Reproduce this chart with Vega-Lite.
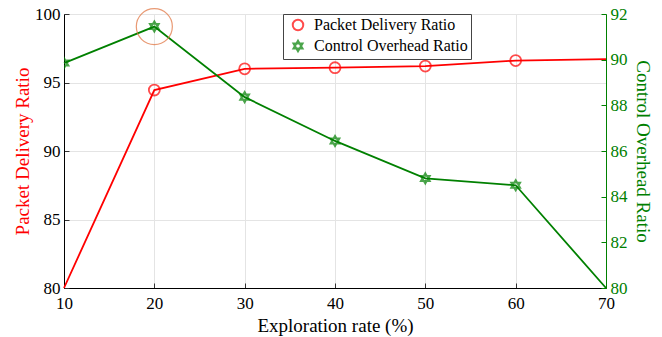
{
  "$schema": "https://vega.github.io/schema/vega-lite/v6.json",
  "width": 542,
  "height": 274,
  "autosize": {"type": "none"},
  "padding": {"left": 64, "top": 14, "right": 56, "bottom": 49},
  "background": "white",
  "config": {
    "font": "Liberation Serif",
    "view": {"stroke": "#333", "strokeWidth": 1},
    "axis": {
      "labelFont": "Liberation Serif",
      "titleFont": "Liberation Serif",
      "labelFontSize": 17,
      "titleFontSize": 19,
      "titleFontWeight": "normal",
      "labelColor": "black",
      "labelFlush": false,
      "grid": true,
      "gridColor": "#e4e4e4",
      "gridWidth": 1,
      "tickSize": -5,
      "tickColor": "#333",
      "domainColor": "black"
    },
    "legend": {
      "labelFont": "Liberation Serif",
      "labelFontSize": 16
    }
  },
  "data": {
    "values": [
      {"rate": 10, "series": "Packet Delivery Ratio", "value": 80.0},
      {"rate": 20, "series": "Packet Delivery Ratio", "value": 94.45},
      {"rate": 30, "series": "Packet Delivery Ratio", "value": 96.0},
      {"rate": 40, "series": "Packet Delivery Ratio", "value": 96.08},
      {"rate": 50, "series": "Packet Delivery Ratio", "value": 96.2},
      {"rate": 60, "series": "Packet Delivery Ratio", "value": 96.6},
      {"rate": 70, "series": "Packet Delivery Ratio", "value": 96.7},
      {"rate": 10, "series": "Control Overhead Ratio", "value": 89.85},
      {"rate": 20, "series": "Control Overhead Ratio", "value": 91.45},
      {"rate": 30, "series": "Control Overhead Ratio", "value": 88.36},
      {"rate": 40, "series": "Control Overhead Ratio", "value": 86.44},
      {"rate": 50, "series": "Control Overhead Ratio", "value": 84.8},
      {"rate": 60, "series": "Control Overhead Ratio", "value": 84.5},
      {"rate": 70, "series": "Control Overhead Ratio", "value": 80.0}
    ]
  },
  "encoding": {
    "x": {
      "field": "rate",
      "type": "quantitative",
      "scale": {"domain": [10, 70], "nice": false},
      "axis": {"values": [10, 20, 30, 40, 50, 60, 70], "title": "Exploration rate (%)", "labelPadding": 12, "titlePadding": 5}
    }
  },
  "layer": [
    {
      "transform": [{"filter": "datum.series === 'Packet Delivery Ratio'"}],
      "encoding": {
        "y": {
          "field": "value",
          "type": "quantitative",
          "scale": {"domain": [80, 100], "nice": false},
          "axis": {"orient": "left", "values": [80, 85, 90, 95, 100], "title": "Packet Delivery Ratio", "titleColor": "#ff0000", "labelPadding": 9, "titlePadding": 2}
        }
      },
      "layer": [
        {"mark": {"type": "line", "strokeWidth": 1.8, "color": "#ff0000"}},
        {
          "transform": [{"filter": "datum.rate > 10 && datum.rate < 70"}],
          "mark": {"type": "point", "filled": false, "size": 120, "strokeWidth": 1.8},
          "encoding": {
            "color": {
              "field": "series",
              "type": "nominal",
              "scale": {"domain": ["Packet Delivery Ratio", "Control Overhead Ratio"], "range": ["#ff0000", "#008000"]},
              "legend": {
                "title": null, "orient": "none", "legendX": 219, "legendY": 0, "fillColor": "white", "strokeColor": "#444", "padding": 3, "rowPadding": 1, "symbolSize": 110, "symbolStrokeWidth": 2, "labelOffset": 8, "symbolOffset": 4, "labelLimit": 400
              }
            },
            "shape": {
              "field": "series",
              "type": "nominal",
              "scale": {"domain": ["Packet Delivery Ratio", "Control Overhead Ratio"], "range": ["circle", "M0,-1L0.866,0.5L-0.866,0.5ZM0,1L0.866,-0.5L-0.866,-0.5Z"]},
              "legend": {"title": null, "orient": "none", "legendX": 219, "legendY": 0}
            }
          }
        }
      ]
    },
    {
      "transform": [{"filter": "datum.series === 'Control Overhead Ratio'"}],
      "encoding": {
        "y": {
          "field": "value",
          "type": "quantitative",
          "scale": {"domain": [80, 92], "nice": false},
          "axis": {"orient": "right", "values": [80, 82, 84, 86, 88, 90, 92], "title": "Control Overhead Ratio", "titleColor": "#008000", "labelColor": "#008000", "domainColor": "#008000", "tickColor": "#008000", "grid": false, "labelPadding": 9, "titlePadding": 5}
        }
      },
      "layer": [
        {"mark": {"type": "line", "strokeWidth": 1.8, "color": "#008000"}},
        {
          "transform": [{"filter": "datum.rate < 70"}],
          "mark": {"type": "point", "filled": false, "size": 110, "strokeWidth": 1.8, "clip": true},
          "encoding": {
            "color": {"field": "series", "type": "nominal"},
            "shape": {"field": "series", "type": "nominal"}
          }
        },
        {
          "transform": [{"filter": "datum.rate === 20"}],
          "mark": {"type": "point", "shape": "circle", "filled": false, "size": 1300, "strokeWidth": 1.2, "color": "#e0703a"}
        }
      ]
    }
  ],
  "resolve": {"scale": {"y": "independent"}}
}
